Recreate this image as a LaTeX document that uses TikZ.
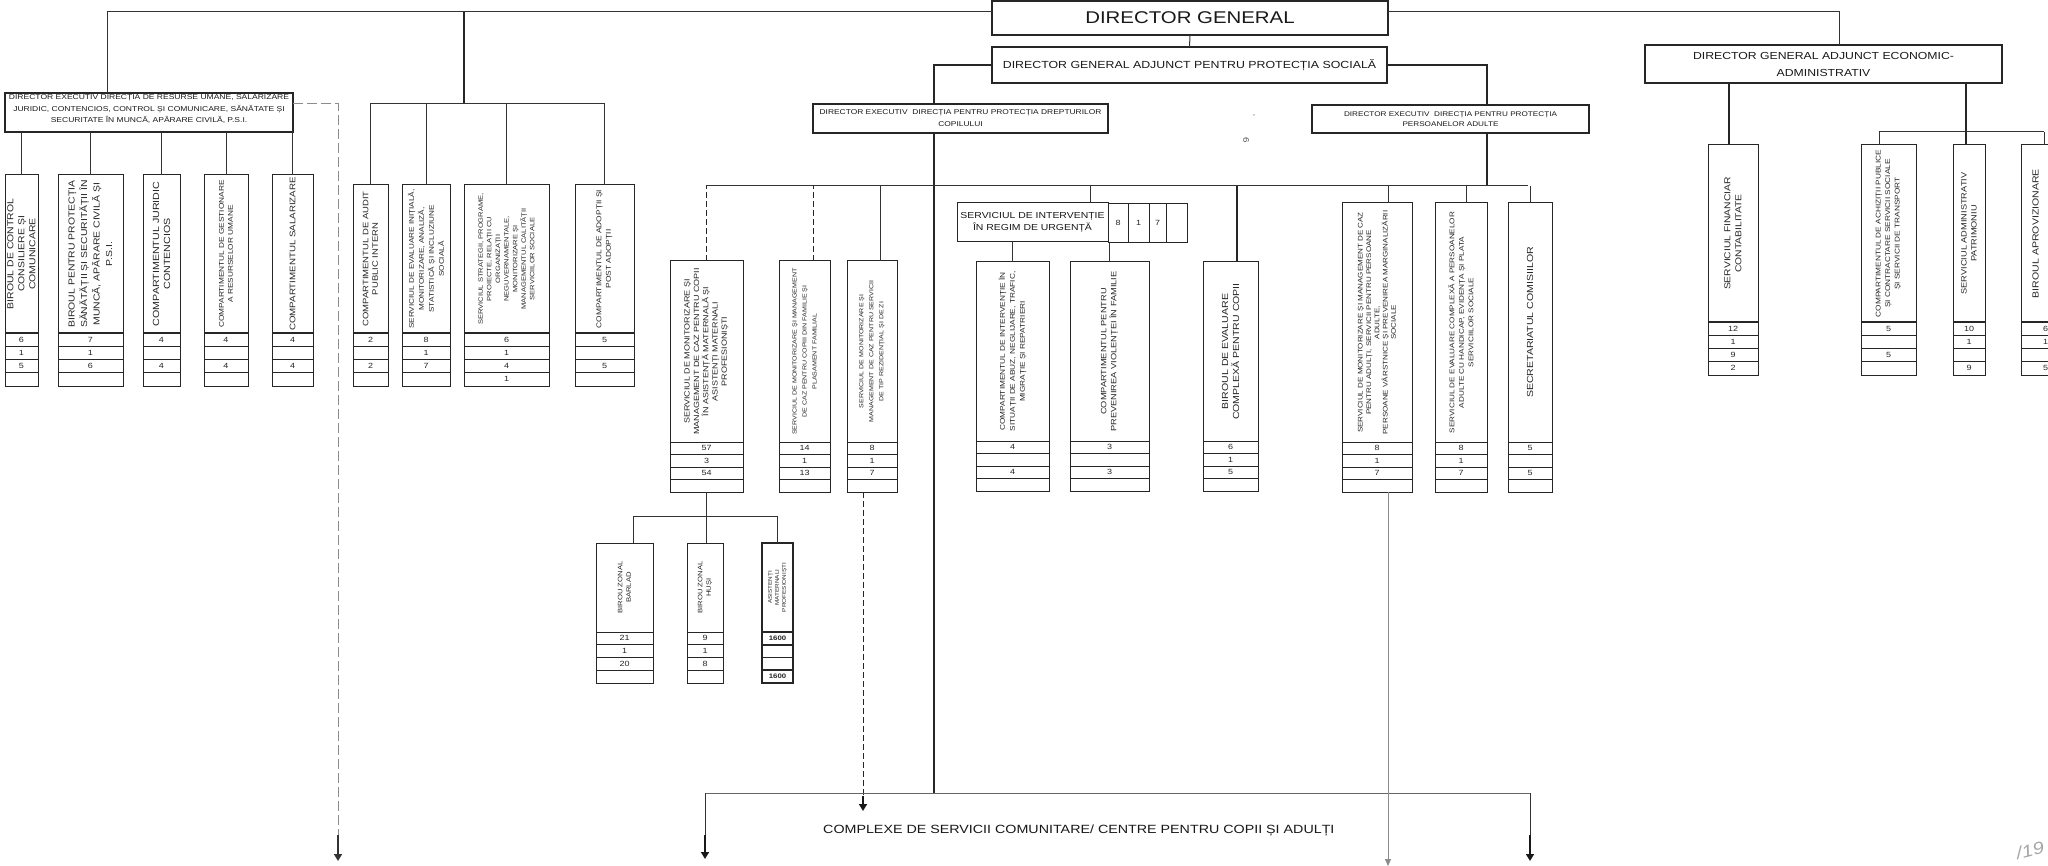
\documentclass[tikz,border=0pt]{standalone}
\usepackage{fontspec}
\setmainfont{Liberation Sans}[FakeStretch=1.2]
\usetikzlibrary{arrows.meta}
\newcommand\fz[2]{\fontsize{#1pt}{#2pt}\selectfont}
\newcommand\bx[6][]{\node[bxs,#1,minimum width={(#5)-(#3)},minimum height={(#6)-(#4)}] (#2) at ({((#3)+(#5))/2},{((#4)+(#6))/2}) {};}
\newcommand\rt[3]{\node[rtx,font=#2] (#1t) at (#1.center) {#3};}
\newcommand\rws[9]{%
 \node[rw,minimum width={(#3)-(#2)},minimum height={#5}] (#1-1) at ({((#2)+(#3))/2},{(#4)+0.5*(#5)}) {#6};
 \node[rw,minimum width={(#3)-(#2)},minimum height={#5}] (#1-2) at ({((#2)+(#3))/2},{(#4)+1.5*(#5)}) {#7};
 \node[rw,minimum width={(#3)-(#2)},minimum height={#5}] (#1-3) at ({((#2)+(#3))/2},{(#4)+2.5*(#5)}) {#8};
 \node[rw,minimum width={(#3)-(#2)},minimum height={#5}] (#1-4) at ({((#2)+(#3))/2},{(#4)+3.5*(#5)}) {#9};}
\tikzset{
 bxs/.style={draw=black!85, line width=1pt, rectangle, inner sep=0pt, outer sep=0pt},
 mainbox/.style={line width=1.6pt},
 exbox/.style={line width=1.4pt},
 rtx/.style={rotate=90, align=center, inner sep=0pt, text=black!85},
 htx/.style={align=center, inner sep=0pt, text=black!90},
 rw/.style={draw=black!85, line width=0.8pt, rectangle, inner sep=0pt, outer sep=0pt, font=\fz{7.5}{8}, text=black!85},
 conn/.style={draw=black!80, line width=1pt},
 thickconn/.style={draw=black!85, line width=1.8pt},
 gconn/.style={draw=black!45, line width=1pt, dash pattern=on 10pt off 4pt},
 dconn/.style={draw=black!85, line width=1pt, dash pattern=on 6pt off 3pt},
 harrow/.style={line width=2.6pt, draw=black!90, -{Triangle[width=8pt,length=7pt]}},
}
\begin{document}
\begin{tikzpicture}[x=1pt,y=-1pt]
\useasboundingbox (0,0) rectangle (2048,866);
\clip (0,0) rectangle (2048,866);
\fill[white] (0,0) rectangle (2048,866);

% ---------- boxes ----------
\bx[mainbox]{dg}{992}{1}{1388}{35}
\bx[mainbox]{dga}{992}{47}{1387}{83}
\bx[mainbox]{dec}{1645}{45}{2002}{83}
\bx[exbox]{dex1}{5}{93}{293}{132}
\bx[exbox]{dexc}{813}{104}{1108}{133}
\bx[exbox]{dexa}{1312}{105}{1589}{133}

\node[htx,font=\fz{17}{20}] (dgt) at (dg.center) {DIRECTOR GENERAL};
\node[htx,font=\fz{10.3}{12}] (dgat) at (dga.center) {DIRECTOR GENERAL ADJUNCT PENTRU PROTECȚIA SOCIALĂ};
\node[htx,font=\fz{10.2}{17}] (dect) at (dec.center) {DIRECTOR GENERAL ADJUNCT ECONOMIC-\\ADMINISTRATIV};
\node[htx,font=\fz{7.1}{11.5}] (dex1t) at ([yshift=3.5pt]dex1.center) {DIRECTOR EXECUTIV DIRECȚIA DE RESURSE UMANE, SALARIZARE\\JURIDIC, CONTENCIOS, CONTROL ȘI COMUNICARE, SĂNĂTATE ȘI\\SECURITATE ÎN MUNCĂ, APĂRARE CIVILĂ, P.S.I.};
\node[htx,font=\fz{7}{12}] (dexct) at (dexc.center) {DIRECTOR EXECUTIV \ DIRECȚIA PENTRU PROTECȚIA DREPTURILOR\\COPILULUI};
\node[htx,font=\fz{6.8}{10}] (dexat) at (dexa.center) {DIRECTOR EXECUTIV \ DIRECȚIA PENTRU PROTECȚIA\\PERSOANELOR ADULTE};

% left group
\bx{b1}{5}{175}{38}{333}   \rws{b1}{5}{38}{333}{13.25}{6}{1}{5}{}
\bx{b2}{58}{175}{123}{333} \rws{b2}{58}{123}{333}{13.25}{7}{1}{6}{}
\bx{b3}{143}{175}{180}{333} \rws{b3}{143}{180}{333}{13.25}{4}{}{4}{}
\bx{b4}{204}{175}{248}{333} \rws{b4}{204}{248}{333}{13.25}{4}{}{4}{}
\bx{b5}{272}{175}{313}{333} \rws{b5}{272}{313}{333}{13.25}{4}{}{4}{}
\rt{b1}{\fz{8.7}{11}}{BIROUL DE CONTROL\\CONSILIERE ȘI\\COMUNICARE}
\rt{b2}{\fz{8.7}{12.5}}{BIROUL PENTRU PROTECȚIA\\SĂNĂTĂȚII ȘI SECURITĂȚII ÎN\\MUNCĂ, APĂRARE CIVILĂ ȘI\\P.S.I.}
\rt{b3}{\fz{8.9}{11}}{COMPARTIMENTUL JURIDIC\\CONTENCIOS}
\rt{b4}{\fz{6.9}{9}}{COMPARTIMENTUL DE GESTIONARE\\A RESURSELOR UMANE}
\rt{b5}{\fz{8.1}{10}}{COMPARTIMENTUL SALARIZARE}

% middle-left group
\bx{a1}{353}{185}{388}{333} \rws{a1}{353}{388}{333}{13.25}{2}{}{2}{}
\bx{a2}{402}{185}{450}{333} \rws{a2}{402}{450}{333}{13.25}{8}{1}{7}{}
\bx{a3}{464}{185}{549}{333} \rws{a3}{464}{549}{333}{13.25}{6}{1}{4}{1}
\bx{a4}{575}{185}{634}{333} \rws{a4}{575}{634}{333}{13.25}{5}{}{5}{}
\rt{a1}{\fz{7.9}{9.5}}{COMPARTIMENTUL DE AUDIT\\PUBLIC INTERN}
\rt{a2}{\fz{6.8}{10}}{SERVICIUL DE EVALUARE INIȚIALĂ,\\MONITORIZARE, ANALIZĂ,\\STATISTICĂ ȘI INCLUZIUNE\\SOCIALĂ}
\rt{a3}{\fz{6.3}{8.6}}{SERVICIUL STRATEGII, PROGRAME,\\PROIECTE, RELAȚII CU\\ORGANIZAȚII\\NEGUVERNAMENTALE,\\MONITORIZARE ȘI\\MANAGEMENTUL CALITĂȚII\\SERVICIILOR SOCIALE}
\rt{a4}{\fz{7}{9.5}}{COMPARTIMENTUL DE ADOPȚII ȘI\\POST ADOPȚII}

% child protection group
\bx{sA}{670}{261}{743}{442} \rws{sA}{670}{743}{442}{12.5}{57}{3}{54}{}
\bx{sB}{779}{261}{830}{442} \rws{sB}{779}{830}{442}{12.5}{14}{1}{13}{}
\bx{sC}{847}{261}{897}{442} \rws{sC}{847}{897}{442}{12.5}{8}{1}{7}{}
\rt{sA}{\fz{7.5}{9.3}}{SERVICIUL DE MONITORIZARE ȘI\\MANAGEMENT DE CAZ PENTRU COPII\\ÎN ASISTENȚĂ MATERNALĂ ȘI\\ASISTENȚI MATERNALI\\PROFESIONIȘTI}
\rt{sB}{\fz{5.9}{10}}{SERVICIUL DE MONITORIZARE ȘI MANAGEMENT\\DE CAZ PENTRU COPIII DIN FAMILIE ȘI\\PLASAMENT FAMILIAL}
\rt{sC}{\fz{5.9}{10}}{SERVICIUL DE MONITORIZARE ȘI\\MANAGEMENT DE CAZ PENTRU SERVICII\\DE TIP REZIDENȚIAL ȘI DE ZI}

\bx{siu}{957}{203}{1108}{242}
\node[rw,minimum width=20,minimum height=39] (siu-1) at (1118,222.5) {8};
\node[rw,minimum width=21,minimum height=39] (siu-2) at (1138.5,222.5) {1};
\node[rw,minimum width=17,minimum height=39] (siu-3) at (1157.5,222.5) {7};
\node[rw,minimum width=21,minimum height=39] (siu-4) at (1176.5,222.5) {};
\node[htx,font=\fz{8.7}{12}] (siut) at (siu.center) {SERVICIUL DE INTERVENȚIE\\ÎN REGIM DE URGENȚĂ};

\bx{cI}{976}{262}{1049}{441} \rws{cI}{976}{1049}{441}{12.5}{4}{}{4}{}
\bx{cV}{1070}{262}{1149}{441} \rws{cV}{1070}{1149}{441}{12.5}{3}{}{3}{}
\bx{bec}{1203}{262}{1258}{441} \rws{bec}{1203}{1258}{441}{12.5}{6}{1}{5}{}
\rt{cI}{\fz{6.9}{10}}{COMPARTIMENTUL DE INTERVENȚIE ÎN\\SITUAȚII DE ABUZ, NEGLIJARE, TRAFIC,\\MIGRAȚIE ȘI REPATRIERI}
\rt{cV}{\fz{7.7}{10}}{COMPARTIMENTUL PENTRU\\PREVENIREA VIOLENȚEI ÎN FAMILIE}
\rt{bec}{\fz{8.8}{11}}{BIROUL DE EVALUARE\\COMPLEXĂ PENTRU COPII}

% zonal
\bx{zB}{596}{543}{653}{632} \rws{zB}{596}{653}{632}{12.75}{21}{1}{20}{}
\bx{zH}{687}{543}{723}{632} \rws{zH}{687}{723}{632}{12.75}{9}{1}{8}{}
\bx[line width=2pt]{zM}{762}{543}{793}{632}
\begin{scope}[rw/.append style={line width=1.6pt,font=\bfseries\fz{6.5}{7}}]
\rws{zM}{762}{793}{632}{12.75}{1600}{}{}{1600}
\end{scope}
\rt{zB}{\fz{6.4}{8.5}}{BIROU ZONAL\\BARLAD}
\rt{zH}{\fz{6.4}{8.5}}{BIROU ZONAL\\HUȘI}
\rt{zM}{\fz{5.3}{7}}{ASISTENȚI\\MATERNALI\\PROFESIONIȘTI}

% adults group
\bx{sD}{1342}{203}{1412}{442} \rws{sD}{1342}{1412}{442}{12.5}{8}{1}{7}{}
\bx{sE}{1435}{203}{1487}{442} \rws{sE}{1435}{1487}{442}{12.5}{8}{1}{7}{}
\bx{sF}{1508}{203}{1552}{442} \rws{sF}{1508}{1552}{442}{12.5}{5}{}{5}{}
\rt{sD}{\fz{6.7}{8.3}}{SERVICIUL DE MONITORIZARE ȘI MANAGEMENT DE CAZ\\PENTRU ADULȚI, SERVICII PENTRU PERSOANE\\ADULTE,\\PERSOANE VÂRSTNICE ȘI PREVENIREA MARGINALIZĂRII\\SOCIALE}
\rt{sE}{\fz{6.8}{9.5}}{SERVICIUL DE EVALUARE COMPLEXĂ A PERSOANELOR\\ADULTE CU HANDICAP, EVIDENȚA ȘI PLATA\\SERVICIILOR SOCIALE}
\rt{sF}{\fz{8.8}{10}}{SECRETARIATUL COMISIILOR}

% economic group
\bx{sFin}{1708}{145}{1758}{322} \rws{sFin}{1708}{1758}{322}{13.25}{12}{1}{9}{2}
\bx{sAch}{1861}{145}{1916}{322} \rws{sAch}{1861}{1916}{322}{13.25}{5}{}{5}{}
\bx{sAdm}{1953}{145}{1985}{322} \rws{sAdm}{1953}{1985}{322}{13.25}{10}{1}{}{9}
\bx{sApr}{2021}{145}{2070}{322} \rws{sApr}{2021}{2070}{322}{13.25}{6}{1}{}{5}
\rt{sFin}{\fz{8.6}{11}}{SERVICIUL FINANCIAR\\CONTABILITATE}
\rt{sAch}{\fz{6.9}{9.5}}{COMPARTIMENTUL DE ACHIZIȚII PUBLICE\\ȘI CONTRACTARE SERVICII SOCIALE\\ȘI SERVICII DE TRANSPORT}
\rt{sAdm}{\fz{7.7}{10}}{SERVICIUL ADMINISTRATIV\\PATRIMONIU}
\node[rtx,font=\fz{8.8}{10}] (sAprt) at ([xshift=-10pt]sApr.center) {BIROUL APROVIZIONARE};

% ---------- connector coordinates ----------
\coordinate (top) at (0,12);
\coordinate (barA) at (464,104);
\coordinate (barC) at (706,186);
\coordinate (barCr) at (1528,186);
\coordinate (barZ) at (706,516);
\coordinate (barE) at (1879,132);
\coordinate (barEr) at (2044,132);
\coordinate (bbL) at (705,793);
\coordinate (bbR) at (1530,793);
\coordinate (aL1) at (338,835);
\coordinate (aL) at (338,861);
\coordinate (aB1) at (705,835);
\coordinate (aB) at (705,859);
\coordinate (aR1) at (1530,835);
\coordinate (aR) at (1530,861);
\coordinate (aC1) at (863,796);
\coordinate (aC) at (863,811);
\coordinate (aD) at (1388,866);

\coordinate (dex1c) at ([xshift=102pt]dex1.north west);
\coordinate (dex1r) at ([yshift=8.5pt]dex1.east);
\coordinate (decc) at ([xshift=15.5pt]dec.north);
\coordinate (dexcc) at ([xshift=-26.5pt]dexc.north);
\coordinate (dexcb) at ([xshift=-26.5pt]dexc.south);
\coordinate (dexac) at ([xshift=36.5pt]dexa.north);
\coordinate (dexab) at ([xshift=36.5pt]dexa.south);
\coordinate (sBc) at ([xshift=8.5pt]sB.north);
\coordinate (sCc) at ([xshift=8pt]sC.north);
\coordinate (sCb) at ([xshift=-9pt]sC-4.south);
\coordinate (siuc) at ([xshift=57.5pt]siu.north);
\coordinate (becc) at ([xshift=6.5pt]bec.north);
\coordinate (sDc) at ([xshift=11pt]sD.north);
\coordinate (sDb) at ([xshift=11pt]sD-4.south);
\coordinate (sEc) at ([xshift=5pt]sE.north);
\coordinate (zBc) at ([xshift=8.5pt]zB.north);
\coordinate (sFinc) at ([xshift=-4pt]sFin.north);
\coordinate (sAchc) at ([xshift=-9.5pt]sAch.north);
\coordinate (sAdmc) at ([xshift=-3pt]sAdm.north);
\coordinate (sAprc) at ([xshift=-1.5pt]sApr.north);

% ---------- connectors ----------
\draw[conn] (dex1c) |- (dg.west |- top);
\draw[conn] (dg.east |- top) -| (decc);
\draw[conn] (dg.south) -- (dga.north);
\draw[thickconn] (barA) -- (barA |- top);
\draw[conn] (a1.north) |- (barA);
\draw[conn] (a4.north) |- (barA);
\draw[conn] (a2.north) -- (a2.north |- barA);
\draw[conn] (a3.north) -- (a3.north |- barA);
\foreach \n in {b1,b2,b3,b4,b5} \draw[conn] (\n.north) -- (\n.north |- dex1.south);
\draw[gconn] (dex1r) -| (aL1);
\draw[harrow,draw=black!80] (aL1) -- (aL);

\draw[thickconn] (dga.west) -| (dexcc);
\draw[thickconn] (dga.east) -| (dexac);
\draw[thickconn] (dexcb) -- (dexcb |- bbL);
\draw[thickconn] (dexab) -- (dexab |- barC);
\draw[conn] (barC) -- (barCr);
\draw[dconn] (sA.north) -- (sA.north |- barC);
\draw[dconn] (sBc) -- (sBc |- barC);
\draw[conn] (sCc) -- (sCc |- barC);
\draw[conn] (siuc) -- (siuc |- barC);
\draw[conn] (cI.north) -- (cI.north |- siu.south);
\draw[conn] (cV.north) -- (cV.north |- siu.south);
\draw[thickconn] (becc) -- (becc |- barC);
\draw[conn] (sDc) -- (sDc |- barC);
\draw[conn] (sEc) -- (sEc |- barC);
\draw[conn] (sF.north) -- (sF.north |- barC);

\draw[conn] (sA-4.south) -- (sA-4.south |- zH.north);
\draw[conn] (zBc) |- (barZ);
\draw[conn] (zM.north) |- (barZ);

\draw[dconn] (sCb) -- (aC1);
\draw[harrow] (aC1) -- (aC);

\draw[conn,draw=black!60] (bbL) -- (bbR);
\draw[conn] (bbL) -- (aB1);
\draw[harrow] (aB1) -- (aB);
\draw[conn] (bbR) -- (aR1);
\draw[harrow] (aR1) -- (aR);
\draw[conn,draw=black!45,-{Triangle[width=6pt,length=7pt]}] (sDb) -- (aD);

\draw[thickconn] (sFinc) -- (sFinc |- dec.south);
\draw[thickconn] (sAdmc) -- (sAdmc |- dec.south);
\draw[conn] (barE) -- (barEr);
\draw[conn] (sAchc) -- (sAchc |- barE);
\draw[conn] (sAprc) -- (sAprc |- barE);

% ---------- free texts ----------
\node[htx,font=\fz{11.9}{14},anchor=west] (cx) at (823,830) {COMPLEXE DE SERVICII COMUNITARE/ CENTRE PENTRU COPII ȘI ADULȚI};
\node[htx,font=\fz{7}{7},text=black!70] (mk1) at (1254,116) {,};
\node[htx,font=\fz{8}{8},text=black!70,rotate=-90] (mk2) at (1246,140) {6};
\node[htx,font=\itshape\fz{17}{17},text=black!35,rotate=15] (hw) at (2030,850) {/19};
\end{tikzpicture}
\end{document}
